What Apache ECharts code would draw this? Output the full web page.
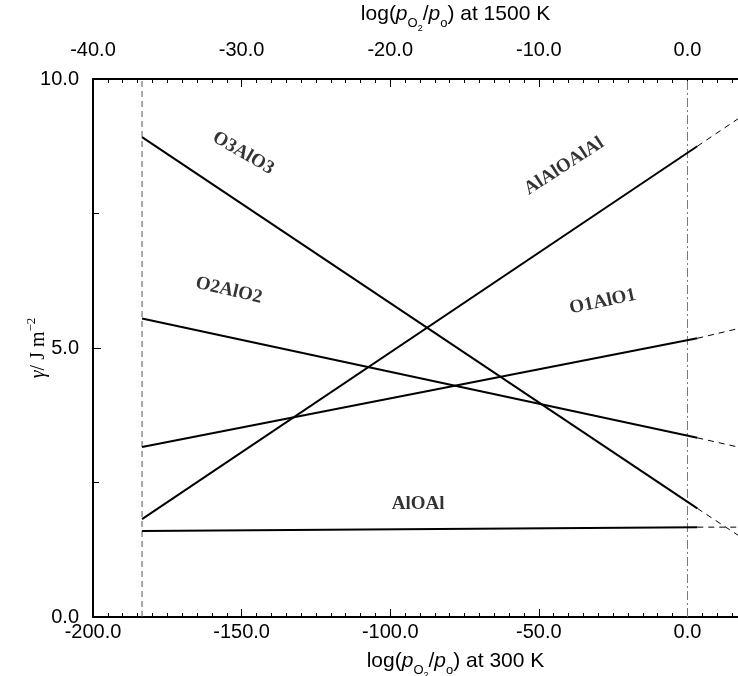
<!DOCTYPE html>
<html>
<head>
<meta charset="utf-8">
<script src="https://cdn.jsdelivr.net/npm/echarts@6/dist/echarts.min.js"></script>
<style>
html,body{margin:0;padding:0;background:#fff;}
#c{width:738px;height:676px;}
</style>
</head>
<body>
<div id="c"></div>
<script>
// x positions (log pO2 at 300 K): start of solid lines, end of solid lines, end of dashed extension
const xPts = [-183.5, 3.3, 17];
// surface energies gamma (J m^-2) at those x positions
const O3AlO3 = [8.92, 2.02, 1.52];
const O2AlO2 = [5.55, 3.33, 3.16];
const O1AlO1 = [3.16, 5.18, 5.36];
const AlAlOAlAl = [1.82, 8.75, 9.26];
const AlOAl = [1.6, 1.67, 1.67];
const seriesNames = ['O3AlO3', 'O2AlO2', 'O1AlO1', 'AlAlOAlAl', 'AlOAl'];
const seriesVals = [O3AlO3, O2AlO2, O1AlO1, AlAlOAlAl, AlOAl];
// label anchor points [x, y] and rotation (deg)
const labelPos = [[-149.5, 8.62], [-154.3, 6.07], [-28.5, 5.86], [-41.5, 8.38], [-90.6, 2.1]];
const labelRot = [-30, -13, 12, 33, 0];
// guide lines
const guideLeftX = -183.5;
const guideZeroX = 0;
// axis ranges
const xBottomRange = [-200, 17];
const xTopRange = [-40, 3.4];
const yRange = [0, 10];

const sans = 'Liberation Sans';
const serif = 'Liberation Serif';

function nameRich(tail) {
  return '{a|log(}{i|p}{s|O}{ss|2}{a|/}{i|p}{s|o}{a|) at ' + tail + '}';
}
const richName = {
  a: {fontFamily: sans, fontSize: 21, color: '#000', lineHeight: 22, verticalAlign: 'bottom', padding: [0, 0, 8, 0]},
  i: {fontFamily: sans, fontStyle: 'italic', fontSize: 21, color: '#000', lineHeight: 22, verticalAlign: 'bottom', padding: [0, 0, 8, 0]},
  s: {fontFamily: sans, fontSize: 13, color: '#000', lineHeight: 13, verticalAlign: 'bottom', padding: [0, 0, 3, 0]},
  ss: {fontFamily: sans, fontSize: 9, color: '#000', lineHeight: 10, verticalAlign: 'bottom', padding: [0, 0, 0, 0]}
};

const fmt = v => v.toFixed(1);

const series = [];
seriesNames.forEach((n, k) => {
  const v = seriesVals[k];
  series.push({
    type: 'line', name: n, xAxisIndex: 0, yAxisIndex: 0, symbol: 'none', silent: true,
    data: [[xPts[0], v[0]], [xPts[1], v[1]]],
    lineStyle: {color: '#000', width: 2}, z: 5
  });
  series.push({
    type: 'line', name: n + ' ext', xAxisIndex: 0, yAxisIndex: 0, symbol: 'none', silent: true,
    data: [[xPts[1], v[1]], [xPts[2], v[2]]],
    lineStyle: {color: '#000', width: 1, type: [6, 5]}, z: 4
  });
  series.push({
    type: 'scatter', xAxisIndex: 0, yAxisIndex: 0, symbolSize: 0, silent: true,
    data: [labelPos[k]],
    label: {show: true, position: 'inside', formatter: n, rotate: labelRot[k],
      fontFamily: serif, fontWeight: 'bold', fontSize: 19, color: '#000'},
    z: 6
  });
});
series.push({
  type: 'line', xAxisIndex: 0, yAxisIndex: 0, symbol: 'none', silent: true,
  data: [[guideLeftX, yRange[0]], [guideLeftX, yRange[1]]],
  lineStyle: {color: '#555', width: 1, type: [6, 4]}, z: 2
});
series.push({
  type: 'line', xAxisIndex: 0, yAxisIndex: 0, symbol: 'none', silent: true,
  data: [[guideZeroX, yRange[0]], [guideZeroX, yRange[1]]],
  lineStyle: {color: '#777', width: 1, type: [9, 3, 2, 3]}, z: 2
});

const chart = echarts.init(document.getElementById('c'), null, {renderer: 'canvas'});
chart.setOption({
  animation: false,
  backgroundColor: '#fff',
  grid: {left: 93, right: 0, top: 79, bottom: 59, containLabel: false, outerBoundsMode: 'none'},
  xAxis: [{
    type: 'value', position: 'bottom', min: xBottomRange[0], max: xBottomRange[1], interval: 50,
    axisLine: {onZero: false, lineStyle: {color: '#000', width: 2}},
    axisTick: {inside: true, length: 8, lineStyle: {color: '#000', width: 1}},
    minorTick: {show: true, splitNumber: 10, length: 4, lineStyle: {color: '#000', width: 1}},
    splitLine: {show: false},
    axisLabel: {formatter: fmt, showMaxLabel: false, fontFamily: sans, fontSize: 20, color: '#000', margin: 5},
    name: nameRich('300 K'), nameLocation: 'middle', nameGap: 41, nameMoveOverlap: false,
    nameTextStyle: {rich: richName, padding: [0, 0, 0, 80]}
  }, {
    type: 'value', position: 'top', min: xTopRange[0], max: xTopRange[1], interval: 10,
    axisLine: {onZero: false, lineStyle: {color: '#000', width: 2}},
    axisTick: {inside: true, length: 8, lineStyle: {color: '#000', width: 1}},
    minorTick: {show: true, splitNumber: 10, length: 4, lineStyle: {color: '#000', width: 1}},
    splitLine: {show: false},
    axisLabel: {formatter: fmt, showMaxLabel: false, fontFamily: sans, fontSize: 20, color: '#000', margin: 19},
    name: nameRich('1500 K'), nameLocation: 'middle', nameGap: 46, nameMoveOverlap: false,
    nameTextStyle: {rich: richName, padding: [0, 0, 0, 80]}
  }],
  yAxis: [{
    type: 'value', min: yRange[0], max: yRange[1], interval: 5,
    axisLine: {onZero: false, lineStyle: {color: '#000', width: 2}},
    axisTick: {inside: true, length: 8, lineStyle: {color: '#000', width: 1}},
    minorTick: {show: true, splitNumber: 2, length: 6, lineStyle: {color: '#000', width: 1}},
    splitLine: {show: false},
    axisLabel: {formatter: fmt, fontFamily: sans, fontSize: 20, color: '#000', margin: 14},
    name: '{g|γ}{t|/ J m}{sup|−2}', nameLocation: 'middle', nameGap: 44, nameRotate: 90, nameMoveOverlap: false,
    nameTextStyle: {rich: {
      g: {fontFamily: serif, fontStyle: 'italic', fontSize: 20, color: '#000', lineHeight: 22, verticalAlign: 'bottom'},
      t: {fontFamily: serif, fontSize: 20, color: '#000', lineHeight: 22, verticalAlign: 'bottom'},
      sup: {fontFamily: serif, fontSize: 13, color: '#000', lineHeight: 13, verticalAlign: 'bottom', padding: [0, 0, 11, 0]}
    }}
  }],
  series: series
});
</script>
</body>
</html>
